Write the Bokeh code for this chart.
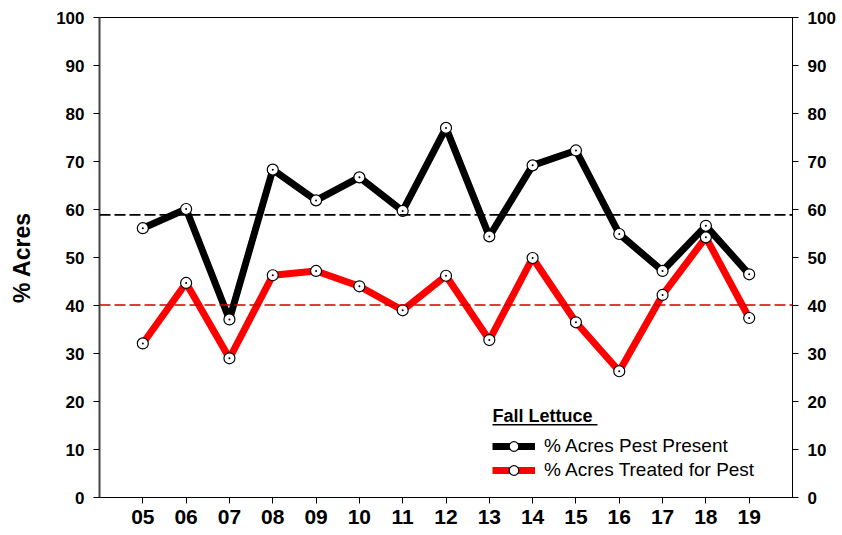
from bokeh.plotting import figure
from bokeh.models import Range1d, LinearAxis, FixedTicker, Span, Legend, LegendItem, Label, BoxAnnotation
from bokeh.embed import file_html
from bokeh.resources import INLINE

years = [5, 6, 7, 8, 9, 10, 11, 12, 13, 14, 15, 16, 17, 18, 19]
year_labels = ["05", "06", "07", "08", "09", "10", "11", "12", "13", "14", "15", "16", "17", "18", "19"]
pest_present = [56.1, 60.1, 37.1, 68.3, 61.9, 66.7, 59.7, 77.0, 54.4, 69.2, 72.3, 54.9, 47.2, 56.6, 46.5]
treated = [32.1, 44.7, 29.0, 46.3, 47.2, 44.0, 39.0, 46.2, 32.8, 49.9, 36.5, 26.3, 42.2, 54.2, 37.4]
pest_mean = 58.9
treated_mean = 40.1
y_ticks = [0, 10, 20, 30, 40, 50, 60, 70, 80, 90, 100]

FONT = "Liberation Sans"

p = figure(width=842, height=535, output_backend="svg", toolbar_location=None,
           x_range=Range1d(4, 20), y_range=Range1d(0, 100),
           min_border_left=99, min_border_right=50, min_border_top=17, min_border_bottom=38)
p.grid.visible = False
p.outline_line_color = "black"
p.outline_line_width = 1
p.background_fill_color = "white"
p.border_fill_color = "white"

# axes
p.xaxis.ticker = FixedTicker(ticks=years)
p.xaxis.major_label_overrides = {y: l for y, l in zip(years, year_labels)}
p.xaxis.minor_tick_line_color = None
p.xaxis.major_tick_out = 6
p.xaxis.major_tick_in = 0
p.xaxis.major_label_text_font = FONT
p.xaxis.major_label_text_font_style = "bold"
p.xaxis.major_label_text_font_size = "21px"
p.xaxis.major_label_text_color = "black"
p.xaxis.major_label_standoff = 6
p.xaxis.axis_line_color = "black"
p.xaxis.major_tick_line_color = "black"

p.yaxis.ticker = FixedTicker(ticks=y_ticks)
p.yaxis.minor_tick_line_color = None
p.yaxis.major_tick_out = 6
p.yaxis.major_tick_in = 0
p.yaxis.major_label_text_font = FONT
p.yaxis.major_label_text_font_style = "bold"
p.yaxis.major_label_text_font_size = "17px"
p.yaxis.major_label_text_color = "black"
p.yaxis.major_label_standoff = 9
p.yaxis.axis_line_color = "#444444"
p.yaxis.axis_line_width = 2
p.yaxis.major_tick_line_color = "black"
p.yaxis.axis_label = "% Acres"
p.yaxis.axis_label_text_font = FONT
p.yaxis.axis_label_text_font_style = "bold"
p.yaxis.axis_label_text_font_size = "23px"
p.yaxis.axis_label_text_color = "black"
p.yaxis.axis_label_standoff = 18

ry = LinearAxis(ticker=FixedTicker(ticks=y_ticks))
ry.minor_tick_line_color = None
ry.major_tick_out = 6
ry.major_tick_in = 0
ry.major_label_text_font = FONT
ry.major_label_text_font_style = "bold"
ry.major_label_text_font_size = "17px"
ry.major_label_text_color = "black"
ry.major_label_standoff = 9
ry.axis_line_color = "black"
ry.major_tick_line_color = "black"
p.add_layout(ry, "right")

# mean lines
p.add_layout(Span(location=pest_mean, dimension="width", line_color="black",
                  line_width=1.8, line_dash="11 4"))
p.add_layout(Span(location=treated_mean, dimension="width", line_color="#cc0000",
                  line_width=1.5, line_dash="11 4"))

# series
l1 = p.line(years, pest_present, line_color="black", line_width=7)
l2 = p.line(years, treated, line_color="#ff0000", line_width=7)
m1 = p.scatter(years, pest_present, size=11, fill_color="white", line_color="black", line_width=1.2)
d1 = p.scatter(years, pest_present, size=2, fill_color="black", line_color=None)
m2 = p.scatter(years, treated, size=11, fill_color="white", line_color="black", line_width=1.2)
d2 = p.scatter(years, treated, size=2, fill_color="black", line_color=None)

legend = Legend(items=[
    LegendItem(label="% Acres Pest Present", renderers=[l1, m1]),
    LegendItem(label="% Acres Treated for Pest", renderers=[l2, m2]),
], location=(393, 15))
legend.glyph_width = 43
legend.glyph_height = 24
legend.spacing = 0
legend.padding = 0
legend.margin = 0
legend.label_standoff = 9
legend.label_text_font = FONT
legend.label_text_font_size = "19px"
legend.label_text_color = "black"
legend.border_line_color = None
legend.background_fill_alpha = 0
p.add_layout(legend)

title = Label(x=393, y=82, x_units="screen", y_units="screen", text="Fall Lettuce",
              text_font=FONT, text_font_style="bold", text_font_size="18px",
              text_baseline="alphabetic", text_align="left", text_color="black")
p.add_layout(title)
p.add_layout(BoxAnnotation(left=393, right=498, bottom=72, top=73.6, left_units="screen",
                           right_units="screen", bottom_units="screen", top_units="screen",
                           fill_color="black", fill_alpha=1, line_color=None))

open("out.html", "w").write(file_html(p, INLINE))
